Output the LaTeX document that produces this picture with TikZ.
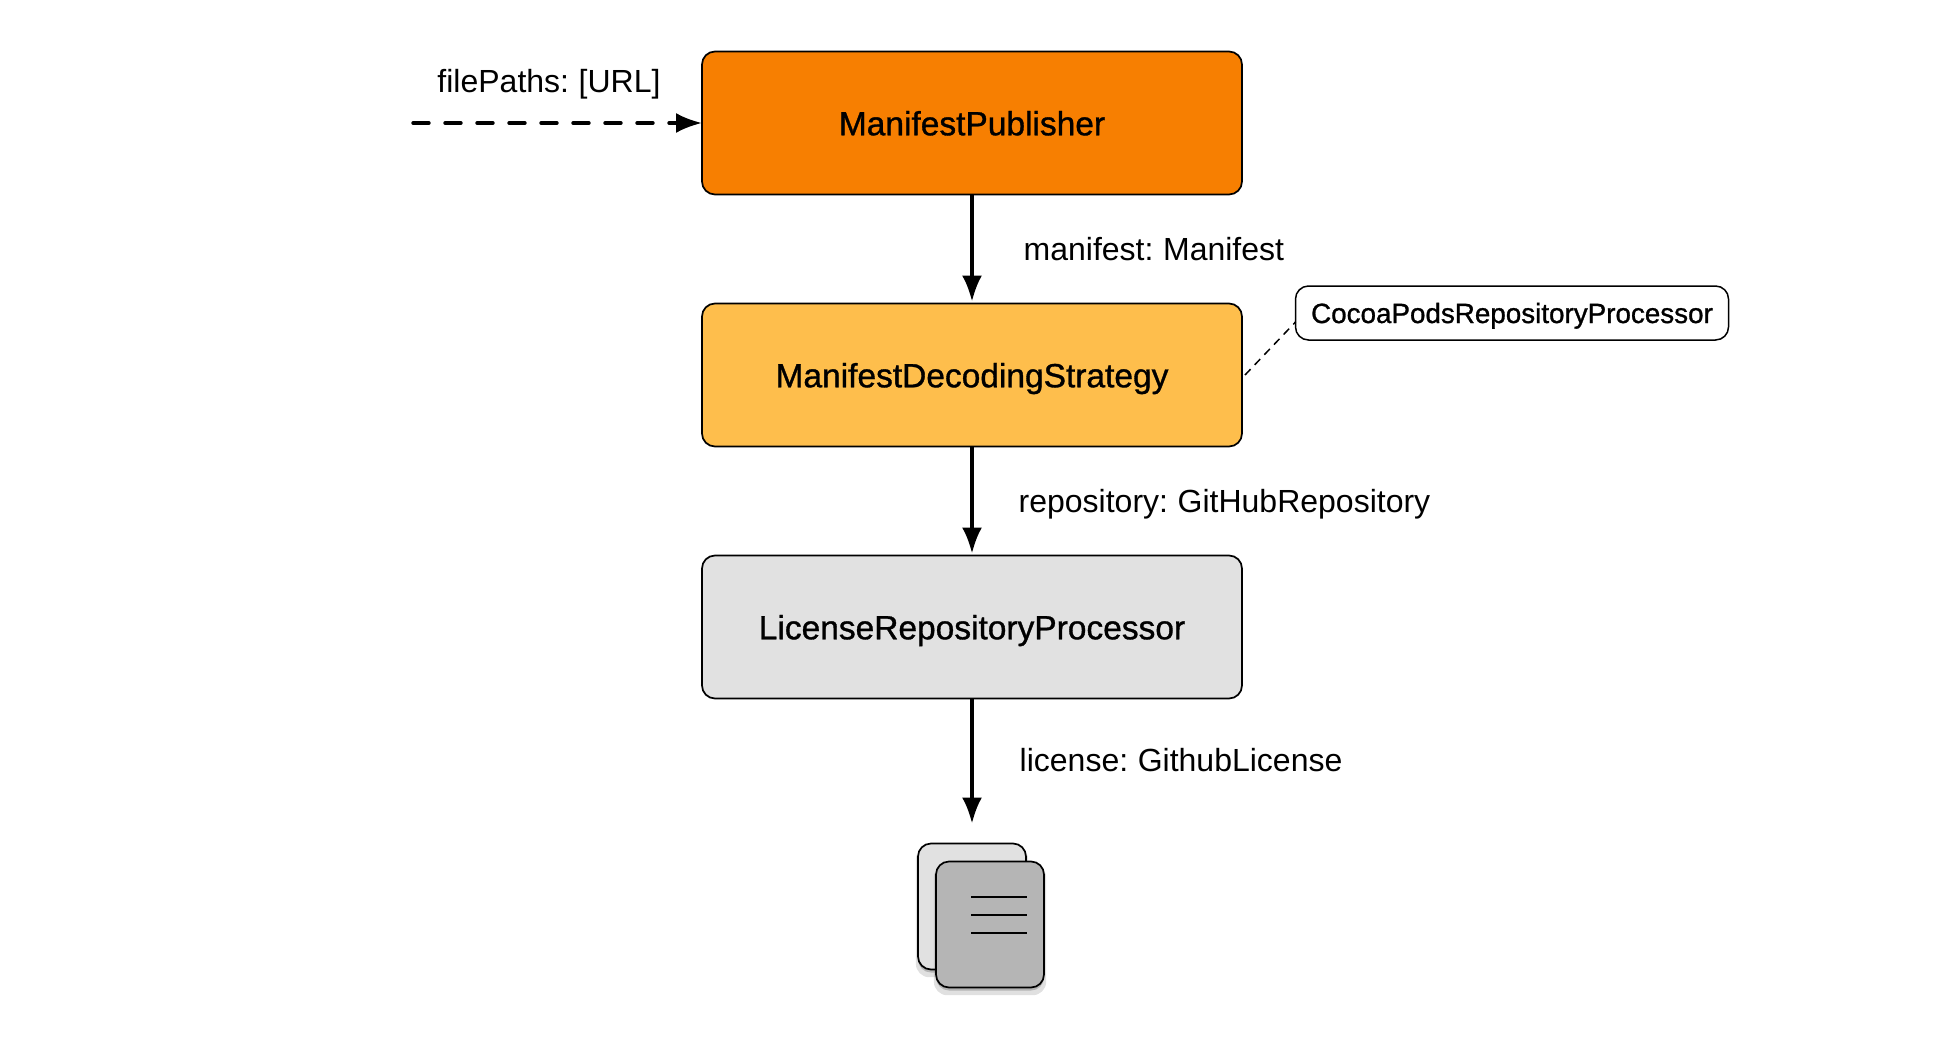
\documentclass[tikz,border=0pt]{standalone}
\usepackage{fontspec}
\setmainfont[WordSpace=0.75]{Liberation Sans}
\newfontfamily\boxfont[FakeBold=1]{Liberation Sans}
\usetikzlibrary{shapes,arrows.meta,positioning,shadows}
\definecolor{publisher}{RGB}{247, 127, 1}
\definecolor{strategy}{RGB}{254, 190, 76}
\definecolor{processor}{RGB}{225, 225, 225}
\definecolor{docback}{RGB}{225, 225, 225}
\definecolor{docfront}{RGB}{181, 181, 181}
\tikzstyle{stage} = [rectangle, rounded corners=13pt, draw=black, line width=1.7pt, text=black, text centered, font=\boxfont\fontsize{33.5}{40}\selectfont, text height=24.5pt, text depth=0pt, minimum width=540pt, minimum height=143pt, outer sep=0pt]
\tikzstyle{note} = [rectangle, rounded corners=13pt, draw=black, line width=1.5pt, fill=white, font=\boxfont\fontsize{27.8}{33}\selectfont, text height=20pt, text depth=0pt, minimum width=433pt, minimum height=54pt, outer sep=0pt]
\tikzstyle{doc} = [rectangle, rounded corners=13pt, draw=black, line width=1.7pt, minimum width=108pt, minimum height=126pt, outer sep=0pt, drop shadow={shadow xshift=0pt, shadow yshift=-5pt, shadow scale=1.04, opacity=.12, fill=black}, drop shadow={shadow xshift=0pt, shadow yshift=-3pt, opacity=.2, fill=black}]
\tikzstyle{tedge} = [draw, line width=3.4pt, -{Latex[length=26pt,width=20pt]}, shorten >=2pt]
\tikzstyle{dedge} = [tedge, dash pattern=on 16pt off 16pt, line cap=round, shorten >=0pt]
\tikzstyle{elabel} = [inner sep=0pt, font=\fontsize{32}{38}\selectfont, text height=23pt, text depth=0pt]
\begin{document}
\begin{tikzpicture}[auto]
\useasboundingbox (0pt,0pt) rectangle (1938pt,-1039pt);

% stages =============================
\node[stage, fill=publisher] (publisher) at (972pt,-123pt) {ManifestPublisher};
\node[stage, fill=strategy, below=109pt of publisher] (strategy) {ManifestDecodingStrategy};
\node[stage, fill=processor, below=109pt of strategy] (processor) {LicenseRepositoryProcessor};

% side note
\node[note] (cocoa) at (1512pt,-313pt) {CocoaPodsRepositoryProcessor};
\draw[dash pattern=on 8pt off 6pt, line width=1.5pt] ([xshift=3pt]strategy.east) -- ([yshift=-9pt]cocoa.west);

% output documents
\node[doc, fill=docback] (back) at (972pt,-906.5pt) {};
\node[doc, fill=docfront, below right=18pt and 18pt of back.north west] (front) {};
\foreach \dy in {28,10,-8}
  \draw[line width=2pt] ([xshift=-19pt,yshift=\dy pt]front.center) -- ([xshift=37pt,yshift=\dy pt]front.center);

% input
\coordinate[left=289pt of publisher.west] (start);
\node[elabel, above=30pt of start, xshift=136pt, anchor=south] (paths) {filePaths: [URL]};

% edges
\path[dedge] (start) -- (publisher.west);
\path[tedge] (publisher) edge node[elabel, right=50pt] {manifest: Manifest} (strategy);
\path[tedge] (strategy) edge node[elabel, right=45pt] {repository: GitHubRepository} (processor);
\path[tedge, shorten >=20pt] (processor) edge node[elabel, right=46pt, pos=.425] {license: GithubLicense} (back);

\end{tikzpicture}
\end{document}
